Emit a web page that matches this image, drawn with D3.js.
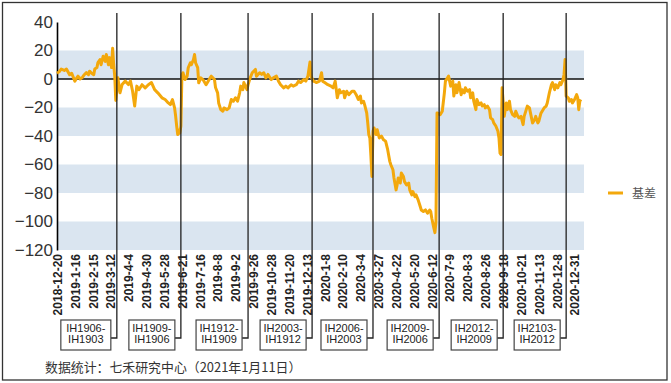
<!DOCTYPE html>
<html><head><meta charset="utf-8">
<script src="https://cdn.jsdelivr.net/npm/d3@7/dist/d3.min.js"></script>
<style>body{margin:0;background:#fff}svg{display:block}</style>
</head><body>
<script>
// trading-day index (0 = 2018-12-20) and basis value
const sampleDay = [0,2,4,7,9,12,14,17,19,20,22,24,26,28,30,31,33,35,36,38,39,41,42,44,46,47,49,50,52,53,54,55,56,
57,58,60,62,65,68,70,72,74,76,78,81,84,87,90,93,96,100,103,106,108,110,112,113,114,115,116,117,118,
119,120,122,124,125,127,128,130,131,132,134,135,137,139,142,144,147,150,151,153,154,156,158,159,162,164,166,168,170,172,174,175,177,178,180,181,
182,184,186,189,190,193,195,197,199,201,204,206,209,211,213,216,218,220,223,225,228,230,232,235,237,239,241,242,
244,245,247,250,252,253,255,258,261,263,265,267,269,270,273,274,276,278,281,283,285,287,289,290,292,293,295,296,297,298,299,300,
301,302,304,305,307,309,311,313,315,317,318,320,321,323,324,325,327,328,330,331,333,335,336,338,339,341,342,344,346,347,349,351,353,355,356,357,359,360,361,
362,365,367,369,370,372,373,375,377,378,380,381,383,385,386,388,389,391,393,394,396,397,399,400,402,404,405,407,408,410,412,413,415,416,418,420,421,422,423,
424,426,428,429,431,432,434,436,437,439,440,442,444,445,447,448,450,452,453,455,456,458,459,461,463,464,466,467,469,471,472,474,475,477,479,480,482,483,484,
485,487,488,490,491,493,495,496,497,498,499];
const basisValue = [4,5,7,6,7,3,4,-1.5,1,2,0,1,3,4.5,3,5.5,4,3,7,8,11.5,13.7,10,16,12.4,17.2,10,15,8,21.5,10,2,-15,
-7.4,0.8,-9.7,-3.9,-1.5,-3.9,-1.5,-8.6,-19,-5,-7.5,-4,-6.2,-4,-2.5,-7.5,-9.7,-13.2,-14.4,-16.8,-18,-14.4,-20.3,-26,-33,-39,-36,-38,-33,
3,4.4,-0.4,2,7.9,11.4,10,13.7,17.2,11.4,8,-2.7,0.8,-0.4,-4,-1.5,2,-0.4,-6,-9.7,-16.8,-21.5,-22.6,-20.3,-21.5,-20.3,-14.4,-15.6,-13.2,-15.6,-9.7,-5,-7.5,-2.5,-6,-7.5,
-4,0.8,4.4,6.7,2,4.4,3.2,4.4,0.8,3.2,-0.4,0.8,2,-1.5,-4,-6.2,-5,-6.2,-4,-5,-4,-1.5,-2.5,-0.4,-1.5,2,12,2,
-1.5,-1.5,-2.5,-1.5,4.4,-1.5,-2.5,-4,-5,-6.2,-1.5,-13.2,-7.5,-9.7,-8.6,-13.2,-8.6,-11,-8.6,-8.6,-11,-14.4,-12,-16.8,-15.6,-18,-23.8,-30.8,-39,-41.4,-54,-68.4,
-36.7,-34.4,-39,-35.6,-41.4,-40,-42.6,-43.6,-49.6,-57.8,-60.2,-63.7,-69.5,-77.8,-74.3,-69.5,-73,-66,-68.4,-72,-74.3,-73,-77.8,-81.3,-79,-82.6,-81.3,-84.8,-89.5,-91.9,-93,-91.9,-94.2,-91.9,-93,-97.7,-104.7,-107.8,-100,
-23.8,-25,-22.6,-9.7,-1.5,0.8,2,-5,-1.5,-12,-4,-9.7,-2.5,-11,-7.5,-9.7,-6.2,-8.6,-7.5,-13.2,-9.7,-15.6,-21.5,-14.4,-18,-16.8,-19,-18,-20.3,-19,-21.5,-27.3,-28.5,-30.8,-33,-36.7,-41.4,-52,-53,
-6.2,-26.2,-16.8,-21.5,-15.6,-21.5,-25,-26.2,-22.6,-26.2,-27.3,-26.2,-32,-26.2,-21.5,-19,-20.3,-27.3,-30.8,-28.5,-26.2,-30.8,-29.6,-24,-21.5,-20.3,-19,-16.8,-9.7,-4,-2.5,-7.5,-4,-6.2,-2.5,-4,-0.4,3.2,13.7,
-12,-13.2,-15.6,-14.4,-16.8,-14.4,-11,-13.2,-21.5,-15.6,-14.4];

const tickLabels = ["2018-12-20","2019-1-16","2019-2-15","2019-3-12","2019-4-4","2019-4-30","2019-5-28","2019-6-21",
"2019-7-16","2019-8-8","2019-9-2","2019-9-26","2019-10-28","2019-11-20","2019-12-13","2020-1-8","2020-2-10","2020-3-4",
"2020-3-27","2020-4-22","2020-5-20","2020-6-12","2020-7-9","2020-8-3","2020-8-26","2020-9-18","2020-10-21","2020-11-13",
"2020-12-8","2020-12-31"];
const tickStep = 17;
const yTicks = [40,20,0,-20,-40,-60,-80,-100,-120];

const rollDay = [57,118,182,243,301,364,425,485];
const rollLabels = [["IH1906-","IH1903"],["IH1909-","IH1906"],["IH1912-","IH1909"],["IH2003-","IH1912"],
["IH2006-","IH2003"],["IH2009-","IH2006"],["IH2012-","IH2009"],["IH2103-","IH2012"]];

const seriesName = "基差";
const sourceText = "数据统计：七禾研究中心（2021年1月11日）";

const W = 671, H = 383;
const svg = d3.select("body").append("svg").attr("width", W).attr("height", H);

svg.append("rect").attr("x",2.5).attr("y",2.5).attr("width",664.5).attr("height",377.5)
  .attr("fill","#fff").attr("stroke","#333").attr("stroke-width",1.3);

const x = d3.scaleLinear().domain([0, 502]).range([57, 584]);
const y = d3.scaleLinear().domain([-120, 40]).range([250, 22]);

// bands
const bandLows = d3.range(-120, 40, 20).filter(v => ((v % 40) + 40) % 40 === 0);
svg.append("g").selectAll("rect").data(bandLows).join("rect")
  .attr("x", x(0)).attr("width", x(502) - x(0))
  .attr("y", d => y(d + 20)).attr("height", d => y(d) - y(d + 20))
  .attr("fill", "#dae5f0");

// y axis
const yAxis = svg.append("g").attr("transform", `translate(${x(0)},0)`)
  .call(d3.axisLeft(y).tickValues(yTicks).tickSize(0).tickPadding(4));
yAxis.select(".domain").attr("stroke","#000").attr("stroke-width",1.6);
yAxis.selectAll("text").attr("font-family","Liberation Sans, Arial, sans-serif")
  .attr("font-size",17).attr("fill","#333");

// zero line
svg.append("line").attr("x1", x(0)).attr("x2", x(502)).attr("y1", y(0)).attr("y2", y(0))
  .attr("stroke","#111").attr("stroke-width",1.5);

// x axis
const tickIdx = tickLabels.map((d,i) => i * tickStep);
const xAxis = svg.append("g").attr("transform", `translate(0,${y(-120)})`)
  .call(d3.axisBottom(x).tickValues(tickIdx).tickFormat((d,i) => tickLabels[i]).tickSize(0));
xAxis.select(".domain").remove();
xAxis.selectAll("text")
  .attr("transform","rotate(-90)").attr("x",-4).attr("y",0).attr("dy","0.36em")
  .style("text-anchor","end")
  .attr("font-family","Liberation Sans, Arial, sans-serif").attr("font-weight","bold")
  .attr("font-size",12).attr("fill","#222");

// series line
const pts = sampleDay.map((d,i) => [d, basisValue[i]]);
svg.append("path").datum(pts)
  .attr("fill","none").attr("stroke","#f3a80c").attr("stroke-width",3).attr("stroke-linejoin","round")
  .attr("d", d3.line().x(d => x(d[0])).y(d => y(d[1])));

// roll annotations
const connY = 338, boxW = 46, boxH = 30, boxTop = 320, gap = 6, lineTop = 13;
const ann = svg.append("g");
rollDay.forEach((r, i) => {
  const lx = x(r);
  const bw = i === 0 ? 50 : boxW;
  const bx = lx - gap - bw;
  ann.append("path").attr("d", `M${lx},${lineTop}V${connY}H${bx + bw}`)
    .attr("fill","none").attr("stroke","#222").attr("stroke-width",1.3);
  ann.append("rect").attr("x", bx).attr("y", boxTop).attr("width", bw).attr("height", boxH)
    .attr("fill","#fff").attr("stroke","#444").attr("stroke-width",1.2);
  const t = ann.append("text").attr("x", bx + bw/2).attr("y", boxTop + 12)
    .attr("text-anchor","middle").attr("font-family","Liberation Sans, Arial, sans-serif")
    .attr("font-size",11).attr("fill","#222");
  rollLabels[i].forEach((s, j) => t.append("tspan").attr("x", bx + bw/2).attr("dy", j ? 11 : 0).text(s));
});

// legend
svg.append("line").attr("x1",608).attr("x2",623).attr("y1",193).attr("y2",193)
  .attr("stroke","#f3a80c").attr("stroke-width",3);
svg.append("text").attr("x",632).attr("y",197.5).text(seriesName)
  .attr("font-family","Noto Sans CJK SC, sans-serif").attr("font-size",12).attr("fill","#555");

// source
svg.append("text").attr("x",45).attr("y",371.5).text(sourceText)
  .attr("font-family","Noto Sans CJK SC, sans-serif").attr("font-size",12.9).attr("fill","#333");
</script>
</body></html>
